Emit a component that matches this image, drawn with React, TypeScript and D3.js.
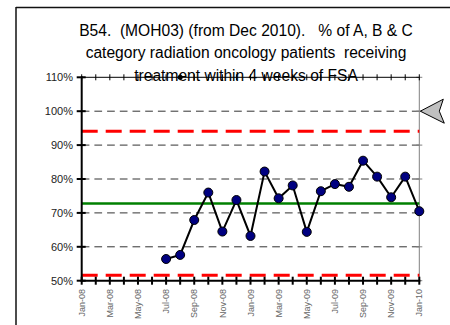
import React from "react";
import * as d3 from "d3";

const months = [
  "Jan-08","Feb-08","Mar-08","Apr-08","May-08","Jun-08","Jul-08","Aug-08","Sep-08","Oct-08","Nov-08","Dec-08",
  "Jan-09","Feb-09","Mar-09","Apr-09","May-09","Jun-09","Jul-09","Aug-09","Sep-09","Oct-09","Nov-09","Dec-09","Jan-10",
];
const seriesMonths = [
  "Jul-08","Aug-08","Sep-08","Oct-08","Nov-08","Dec-08","Jan-09","Feb-09","Mar-09","Apr-09","May-09","Jun-09",
  "Jul-09","Aug-09","Sep-09","Oct-09","Nov-09","Dec-09","Jan-10",
];
const seriesValues = [
  56.4, 57.6, 67.9, 76.0, 64.5, 73.8, 63.2, 82.2, 74.3, 78.1, 64.4, 76.4,
  78.5, 77.7, 85.4, 80.7, 74.6, 80.7, 70.5,
];
const meanValue = 72.8;
const upperLimit = 94.1;
const lowerLimit = 51.6;
const targetValue = 100;
const topMarkerMonth = "Aug-08";
const topMarkerValue = 110;
const yTicks = [50, 60, 70, 80, 90, 100, 110];
const gridValues = [60, 70, 80, 90, 100];
const titleLines = [
  "B54.  (MOH03) (from Dec 2010).   % of A, B & C",
  "category radiation oncology patients  receiving",
  "treatment within 4 weeks of FSA",
];

export default function App() {
  const x = d3.scalePoint<string>().domain(months).range([81.7, 419.3]);
  const y = d3.scaleLinear().domain([50, 110]).range([280.7, 77.3]);
  const x0 = x(months[0])!;
  const x1 = x(months[months.length - 1])!;
  const line = d3
    .line<number>()
    .x((_, i) => x(seriesMonths[i])!)
    .y((d) => y(d));
  const tY = y(targetValue);
  const arrow = `M${x1 + 1},${tY} L${x1 + 24},${tY - 12} L${x1 + 20},${tY} L${x1 + 25},${tY + 12} Z`;
  const font = "'Liberation Sans', Arial, sans-serif";

  return (
    <svg
      width={450}
      height={325}
      style={{ position: "fixed", left: 0, top: 0, background: "#fff" }}
      fontFamily={font}
    >
      <rect x={0} y={0} width={450} height={325} fill="#fff" />
      {/* outer frame */}
      <line x1={16} y1={7.5} x2={450} y2={7.5} stroke="#111" strokeWidth={1.5} />
      <line x1={16} y1={7} x2={16} y2={325} stroke="#111" strokeWidth={1.5} />

      {/* title */}
      {titleLines.map((t, i) => (
        <text
          key={i}
          x={246}
          y={35.5 + i * 22.5}
          textAnchor="middle"
          fontSize={15.6}
          fill="#000"
          style={{ whiteSpace: "pre" }}
        >
          {t}
        </text>
      ))}

      {/* gridlines */}
      {gridValues.map((v) => (
        <line
          key={v}
          x1={x0}
          x2={x1}
          y1={y(v)}
          y2={y(v)}
          stroke="#333"
          strokeWidth={1}
          strokeDasharray="7.7,5"
        />
      ))}

      {/* right axis */}
      <line x1={x1} x2={x1} y1={y(110)} y2={y(50)} stroke="#808080" strokeWidth={1} />
      {yTicks.map((v) => (
        <line key={"rt" + v} x1={x1 - 3} x2={x1 + 3} y1={y(v)} y2={y(v)} stroke="#808080" strokeWidth={1} />
      ))}

      {/* top line with ticks */}
      <line x1={x0} x2={x1} y1={y(110)} y2={y(110)} stroke="#000" strokeWidth={1} />
      {months.map((m) => (
        <line key={"tt" + m} x1={x(m)!} x2={x(m)!} y1={y(110) - 3} y2={y(110) + 3} stroke="#000" strokeWidth={1} />
      ))}

      {/* control limits */}
      <line x1={x0} x2={x1} y1={y(upperLimit)} y2={y(upperLimit)} stroke="#ff0000" strokeWidth={3} strokeDasharray="16,8" />
      <line x1={x0} x2={x1} y1={y(lowerLimit)} y2={y(lowerLimit)} stroke="#ff0000" strokeWidth={3} strokeDasharray="16,8" />
      {/* mean */}
      <line x1={x0} x2={x1} y1={y(meanValue)} y2={y(meanValue)} stroke="#008000" strokeWidth={2.5} />

      {/* series */}
      <path d={line(seriesValues) || ""} fill="none" stroke="#000" strokeWidth={2} />
      {seriesValues.map((v, i) => (
        <circle key={i} cx={x(seriesMonths[i])!} cy={y(v)} r={4.5} fill="#000080" stroke="#000" strokeWidth={1} />
      ))}
      <circle cx={x(topMarkerMonth)!} cy={y(topMarkerValue)} r={2.5} fill="#000" />

      {/* left axis */}
      <line x1={x0} x2={x0} y1={y(110) - 1} y2={y(50) + 1} stroke="#000" strokeWidth={2} />
      {yTicks.map((v) => (
        <g key={"yl" + v}>
          <line x1={x0 - 5} x2={x0 + 4} y1={y(v)} y2={y(v)} stroke="#000" strokeWidth={2} />
          <text x={73} y={y(v)} dy="0.36em" textAnchor="end" fontSize={11} fill="#222">
            {v}%
          </text>
        </g>
      ))}

      {/* bottom axis */}
      <line x1={x0 - 1} x2={x1 + 1} y1={y(50)} y2={y(50)} stroke="#000" strokeWidth={2} />
      {months.map((m, i) => (
        <g key={"bx" + m}>
          <line x1={x(m)!} x2={x(m)!} y1={y(50) - 4} y2={y(50) + 4} stroke="#000" strokeWidth={2} />
          {i % 2 === 0 && (
            <text
              transform={`translate(${x(m)!},${289}) rotate(-90)`}
              dy="0.35em"
              textAnchor="end"
              fontSize={9}
              fill="#666"
            >
              {m}
            </text>
          )}
        </g>
      ))}

      {/* target arrow */}
      <path d={arrow} fill="#c0c0c0" stroke="#000" strokeWidth={1} />
    </svg>
  );
}
